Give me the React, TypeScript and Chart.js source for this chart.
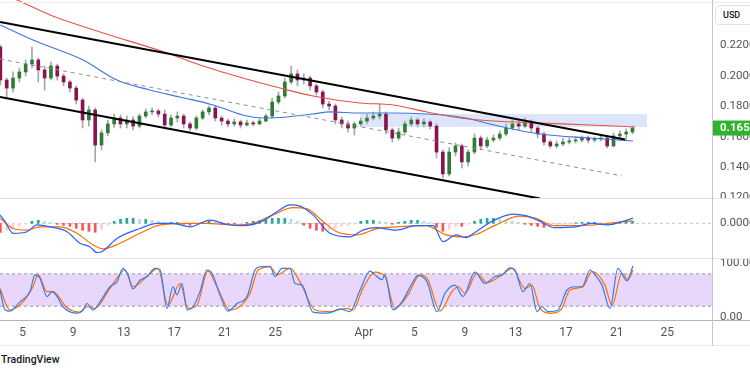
import React, { useEffect, useRef } from "react";
import { Chart, registerables } from "chart.js";
Chart.register(...registerables);

// ---------- time axis: day numbers counted from 1 March (32 = 1 April) ----------
const X_MIN = 3.22;
const X_MAX = 59.54;
const xTickDays = [5, 9, 13, 17, 21, 25, 32, 36, 40, 44, 48, 52, 56];
const xTickLabels = ["5", "9", "13", "17", "21", "25", "Apr", "5", "9", "13", "17", "21", "25"];

// ---------- price pane ----------
const PRICE_MIN = 0.11901;
const PRICE_MAX = 0.24993;
const priceTicks = [0.12, 0.14, 0.16, 0.18, 0.2, 0.22];
const candleFirstDay = 3.25;
const candleStepDays = 0.5;
// [open, high, low, close]
const ohlc: number[][] = [
  [0.2190, 0.2203, 0.1940, 0.1973], [0.1973, 0.1986, 0.1861, 0.1920], [0.1920, 0.2026, 0.1894, 0.1986],
  [0.1986, 0.2052, 0.1960, 0.2026], [0.2026, 0.2105, 0.1999, 0.2078], [0.2078, 0.2190, 0.2052, 0.2105],
  [0.2105, 0.2118, 0.1960, 0.2039], [0.2039, 0.2065, 0.1907, 0.1986], [0.1986, 0.2091, 0.1973, 0.2065],
  [0.2065, 0.2078, 0.1973, 0.1999], [0.1999, 0.2013, 0.1934, 0.1960], [0.1960, 0.1973, 0.1894, 0.1920],
  [0.1920, 0.1934, 0.1815, 0.1841], [0.1841, 0.1854, 0.1657, 0.1710], [0.1710, 0.1802, 0.1670, 0.1776],
  [0.1776, 0.1789, 0.1434, 0.1545], [0.1545, 0.1644, 0.1513, 0.1625], [0.1625, 0.1710, 0.1605, 0.1684],
  [0.1684, 0.1749, 0.1657, 0.1723], [0.1723, 0.1743, 0.1657, 0.1684], [0.1684, 0.1736, 0.1657, 0.1710],
  [0.1710, 0.1730, 0.1644, 0.1670], [0.1670, 0.1749, 0.1657, 0.1736], [0.1736, 0.1782, 0.1723, 0.1763],
  [0.1763, 0.1789, 0.1743, 0.1769], [0.1769, 0.1782, 0.1730, 0.1749], [0.1749, 0.1776, 0.1664, 0.1677],
  [0.1677, 0.1743, 0.1664, 0.1723], [0.1723, 0.1763, 0.1697, 0.1736], [0.1736, 0.1749, 0.1657, 0.1684],
  [0.1684, 0.1697, 0.1638, 0.1657], [0.1657, 0.1736, 0.1644, 0.1723], [0.1723, 0.1776, 0.1710, 0.1763],
  [0.1763, 0.1802, 0.1743, 0.1789], [0.1789, 0.1802, 0.1703, 0.1723], [0.1723, 0.1736, 0.1677, 0.1703],
  [0.1703, 0.1717, 0.1664, 0.1684], [0.1684, 0.1717, 0.1670, 0.1697], [0.1697, 0.1710, 0.1657, 0.1677],
  [0.1677, 0.1710, 0.1670, 0.1690], [0.1690, 0.1703, 0.1670, 0.1684], [0.1684, 0.1717, 0.1677, 0.1703],
  [0.1703, 0.1749, 0.1697, 0.1736], [0.1736, 0.1854, 0.1723, 0.1828], [0.1828, 0.1894, 0.1815, 0.1868],
  [0.1868, 0.1986, 0.1854, 0.1960], [0.1960, 0.2065, 0.1947, 0.2013], [0.2013, 0.2039, 0.1934, 0.1973],
  [0.1973, 0.2013, 0.1947, 0.1986], [0.1986, 0.1999, 0.1907, 0.1934], [0.1934, 0.1947, 0.1874, 0.1894],
  [0.1894, 0.1907, 0.1789, 0.1815], [0.1815, 0.1835, 0.1776, 0.1802], [0.1802, 0.1815, 0.1684, 0.1710],
  [0.1710, 0.1730, 0.1657, 0.1684], [0.1684, 0.1703, 0.1631, 0.1657], [0.1657, 0.1697, 0.1611, 0.1684],
  [0.1684, 0.1723, 0.1670, 0.1703], [0.1703, 0.1749, 0.1684, 0.1723], [0.1723, 0.1763, 0.1710, 0.1736],
  [0.1736, 0.1815, 0.1717, 0.1749], [0.1749, 0.1763, 0.1618, 0.1644], [0.1644, 0.1657, 0.1565, 0.1591],
  [0.1591, 0.1657, 0.1578, 0.1631], [0.1631, 0.1703, 0.1618, 0.1684], [0.1684, 0.1730, 0.1670, 0.1710],
  [0.1710, 0.1723, 0.1664, 0.1684], [0.1684, 0.1717, 0.1664, 0.1697], [0.1697, 0.1710, 0.1651, 0.1670],
  [0.1670, 0.1684, 0.1460, 0.1499], [0.1499, 0.1513, 0.1328, 0.1355], [0.1355, 0.1526, 0.1341, 0.1499],
  [0.1499, 0.1559, 0.1473, 0.1539], [0.1539, 0.1552, 0.1394, 0.1434], [0.1434, 0.1513, 0.1407, 0.1499],
  [0.1499, 0.1618, 0.1486, 0.1591], [0.1591, 0.1605, 0.1513, 0.1539], [0.1539, 0.1598, 0.1526, 0.1578],
  [0.1578, 0.1611, 0.1565, 0.1591], [0.1591, 0.1638, 0.1578, 0.1618], [0.1618, 0.1684, 0.1605, 0.1657],
  [0.1657, 0.1710, 0.1644, 0.1684], [0.1684, 0.1710, 0.1644, 0.1670], [0.1670, 0.1723, 0.1657, 0.1697],
  [0.1697, 0.1710, 0.1631, 0.1657], [0.1657, 0.1670, 0.1591, 0.1618], [0.1618, 0.1631, 0.1545, 0.1565],
  [0.1565, 0.1578, 0.1526, 0.1539], [0.1539, 0.1572, 0.1526, 0.1552], [0.1552, 0.1591, 0.1539, 0.1565],
  [0.1565, 0.1591, 0.1552, 0.1572], [0.1572, 0.1598, 0.1559, 0.1578], [0.1578, 0.1605, 0.1565, 0.1591],
  [0.1591, 0.1605, 0.1559, 0.1578], [0.1578, 0.1598, 0.1565, 0.1585], [0.1585, 0.1605, 0.1572, 0.1591],
  [0.1591, 0.1598, 0.1526, 0.1539], [0.1539, 0.1625, 0.1532, 0.1605], [0.1605, 0.1638, 0.1578, 0.1618],
  [0.1618, 0.1651, 0.1578, 0.1631], [0.1631, 0.1670, 0.1618, 0.1657],
];
// moving averages [day, price]
const maSlow = [
  [3.22, 0.2539], [4.56, 0.2499], [7.18, 0.2401], [11.13, 0.2289], [16.43, 0.2151], [19.04, 0.2072],
  [22.99, 0.1973], [25.37, 0.192], [27.98, 0.1868], [31.69, 0.1822], [34.3, 0.1809], [36.99, 0.1763],
  [39.6, 0.1723], [42.21, 0.1703], [45.93, 0.169], [49.89, 0.1677], [53.45, 0.1664],
];
const maFast = [
  [3.22, 0.2335], [5.83, 0.2236], [9.79, 0.2105], [12.47, 0.1973], [15.08, 0.1907], [17.45, 0.1861],
  [20.07, 0.1809], [22.76, 0.1736], [24.02, 0.1723], [25.92, 0.173], [27.98, 0.1749], [29.32, 0.1763],
  [31.69, 0.1756], [34.3, 0.1756], [36.99, 0.1749], [39.6, 0.173], [43.0, 0.1664], [45.93, 0.1618],
  [49.89, 0.1591], [53.29, 0.1572],
];
// channel drawings [day, price]
const channelUpper = [[3.22, 0.2355], [52.66, 0.1582]];
const channelLower = [[3.22, 0.1861], [45.93, 0.1193]];
const channelMid = [[3.22, 0.2111], [52.42, 0.1342]];
// resistance zone: [startDay, endDay, topPrice, bottomPrice]
const zone = [31.69, 54.4, 0.1749, 0.1664];

// ---------- MACD pane ----------
const MACD_MIN = -0.008925;
const MACD_MAX = 0.006075;
const macdTicks = [0];
const macdLine = [
  [3.22, 0.0021], [3.62, 0.0004], [4.25, -0.0025], [5.36, -0.0021], [6.15, -0.0004], [7.18, -0.0009],
  [8.52, -0.0021], [9.55, -0.005], [10.34, -0.0059], [10.89, -0.0073], [11.37, -0.0069], [12.47, -0.0038],
  [14.29, -0.0013], [15.64, 0], [16.9, 0], [18.25, -0.0009], [19.83, 0.0008], [21.18, -0.0003],
  [22.44, -0.0006], [24.02, 0.0006], [25.13, 0.0029], [26.16, 0.0046], [26.95, 0.0043], [27.98, 0.0021],
  [29.32, -0.0025], [30.9, -0.0034], [31.93, -0.0017], [32.97, -0.0011], [34.55, -0.0017], [36.13, -0.0006],
  [37.48, -0.0006], [38.27, -0.0046], [39.3, -0.0029], [40.08, -0.0036], [40.87, -0.0021], [42.21, 0.0006],
  [43.79, 0.0023], [44.82, 0.0019], [45.86, 0.0006], [47.12, -0.0011], [48.7, -0.0009], [50.04, 0],
  [51.31, -0.0004], [52.42, 0.0004], [53.28, 0.0013],
];
const signalLine = [
  [3.22, 0.0013], [4.25, -0.0013], [5.36, -0.0017], [6.38, -0.0009], [7.97, -0.0009], [9.31, -0.0025],
  [10.58, -0.0054], [11.37, -0.0064], [12.71, -0.005], [14.29, -0.0025], [15.88, -0.0004], [18.01, 0],
  [19.59, 0], [21.65, -0.0004], [23.23, 0], [24.81, 0.0021], [26.4, 0.0039], [27.51, 0.0036],
  [28.78, 0.0004], [29.87, -0.0021], [31.46, -0.0029], [32.97, -0.0014], [34.55, -0.0009], [36.92, -0.0006],
  [38.51, -0.0029], [39.84, -0.0034], [40.87, -0.0028], [42.45, -0.0004], [44.27, 0.0018], [45.54, 0.0013],
  [47.12, -0.0006], [49.25, -0.0006], [51.31, 0], [53.28, 0.0006],
];
// one histogram value per candle
const macdHist = [
  -0.00225, -0.00175, -0.00125, -0.00075, -0.00025, 0.0005, 0.00075, 0.0005, 0.00025, -0.00025,
  -0.0005, -0.00075, -0.00125, -0.00175, -0.002, -0.00225, -0.0015, -0.0005, 0.0005, 0.001,
  0.00125, 0.00125, 0.001, 0.001, 0.00075, 0.0005, 0.00025, 0.00025, 0.00025, -0.00025,
  -0.0005, -0.00025, 0.00025, 0.0005, 0.00025, -0.00025, -0.00025, -0.00025, -0.00012, 0.00025,
  0.0005, 0.00075, 0.001, 0.00125, 0.00125, 0.00125, 0.001, 0.0005, -0.0005, -0.00125,
  -0.00175, -0.002, -0.00175, -0.00125, -0.00075, -0.0005, -0.00025, 0.0005, 0.00075, 0.00075,
  0.0005, 0.00025, -0.00025, 0.00025, 0.0005, 0.00075, 0.00075, 0.0005, 0.00025, -0.001,
  -0.002, -0.0015, -0.00075, -0.00075, -0.00025, 0.0005, 0.001, 0.00125, 0.00125, 0.001,
  0.00075, 0.0005, 0.00025, -0.00025, -0.0005, -0.00075, -0.001, -0.00075, -0.0005, -0.00025,
  -0.00012, 0.00012, 0.00025, 0.00025, 0.00025, 0.00012, -0.00012, 0.00012, 0.00025, 0.00038,
  0.0005,
];

// ---------- Stoch RSI pane ----------
const STOCH_MIN = -6.48;
const STOCH_MAX = 107.4;
const stochTicks = [0, 100];
const stochBand = [20, 80];
const stochK = [
  [3.22, 50], [3.62, 13], [4.01, 11], [4.8, 28], [5.59, 47], [5.99, 78], [6.38, 72], [6.94, 38], [7.33, 47],
  [7.73, 38], [8.2, 19], [9.31, 7], [9.79, 13], [10.1, 25], [10.58, 13], [11.13, 28], [11.92, 56], [12.47, 65],
  [12.95, 90], [13.34, 78], [13.74, 52], [14.29, 68], [14.85, 75], [15.48, 90], [15.88, 87], [16.43, 16],
  [16.9, 56], [17.22, 41], [17.62, 62], [18.01, 13], [18.49, 19], [19.04, 47], [19.59, 87], [19.99, 81],
  [20.62, 41], [21.25, 11], [21.97, 25], [22.76, 38], [23.39, 87], [23.79, 93], [24.58, 94], [24.97, 75],
  [25.53, 90], [26.16, 90], [26.55, 62], [27.11, 59], [27.98, 9], [29.09, 7], [29.56, 10], [30.11, 15],
  [30.9, 10], [31.7, 50], [32.49, 85], [32.88, 78], [33.44, 69], [33.67, 78], [34.31, 13], [35.02, 28],
  [35.81, 62], [36.28, 77], [37.0, 65], [37.79, 10], [38.42, 44], [39.21, 59], [39.84, 38], [40.79, 83],
  [41.58, 62], [42.37, 75], [42.93, 78], [43.56, 91], [43.96, 87], [44.59, 47], [45.14, 62], [45.7, 10],
  [46.09, 19], [46.57, 10], [47.36, 13], [48.07, 50], [48.7, 56], [49.26, 56], [49.89, 87], [50.28, 78],
  [50.84, 59], [51.47, 16], [52.1, 90], [52.81, 67], [53.29, 95],
];
const stochD = [
  [3.22, 53], [4.01, 13], [5.04, 28], [5.83, 56], [6.23, 78], [6.94, 47], [7.41, 47], [8.52, 17], [9.55, 9],
  [10.1, 19], [10.73, 16], [11.92, 53], [13.11, 87], [13.74, 56], [14.85, 75], [15.72, 90], [16.51, 22],
  [17.46, 62], [18.09, 16], [18.8, 22], [19.67, 85], [20.38, 56], [21.41, 13], [23.0, 44], [23.63, 87],
  [24.58, 93], [25.13, 78], [26.16, 90], [26.95, 65], [28.14, 13], [29.32, 10], [30.67, 16], [31.14, 13],
  [31.93, 53], [32.88, 83], [33.67, 75], [34.46, 16], [35.49, 41], [36.44, 78], [37.07, 69], [38.02, 11],
  [38.97, 47], [39.45, 56], [40.0, 44], [40.95, 81], [41.74, 64], [42.93, 78], [43.72, 90], [44.75, 53],
  [45.3, 59], [45.93, 16], [46.88, 7], [47.67, 16], [48.3, 50], [49.33, 56], [50.04, 84], [51.07, 59],
  [51.63, 22], [52.42, 81], [52.89, 69], [53.29, 87],
];

// ---------- helpers ----------
const FONT = "Roboto, 'Noto Sans', sans-serif";
const LABEL_COLOR = "#50535e";
const candleDays = ohlc.map((_, i) => candleFirstDay + i * candleStepDays);
const lastClose = ohlc[ohlc.length - 1][3];
const pts = (arr: number[][]) => arr.map(([x, y]) => ({ x, y }));
const hline = (v: number) => [{ x: X_MIN, y: v }, { x: X_MAX, y: v }];

function line(data: any[], color: string, width: number, extra: any = {}) {
  return {
    type: "line",
    data,
    borderColor: color,
    backgroundColor: color,
    borderWidth: width,
    pointRadius: 0,
    fill: false,
    tension: 0,
    ...extra,
  };
}

function xAxis(show: boolean) {
  return {
    type: "linear",
    min: X_MIN,
    max: X_MAX,
    offset: false,
    display: show,
    grid: { display: false, drawTicks: false },
    border: { display: false },
    ticks: {
      autoSkip: false,
      maxRotation: 0,
      padding: 5,
      color: LABEL_COLOR,
      font: { family: FONT, size: 12 },
      callback: (_v: any, i: number) => xTickLabels[i] ?? "",
    },
    afterBuildTicks: (s: any) => {
      s.ticks = xTickDays.map((v) => ({ value: v }));
    },
    afterFit: (s: any) => {
      s.height = show ? 25.5 : 0;
      s.paddingLeft = 0;
      s.paddingRight = 0;
    },
  };
}

function yAxis(min: number, max: number, ticks: number[], decimals: number) {
  return {
    type: "linear",
    position: "right",
    min,
    max,
    grid: { display: false, drawTicks: false },
    border: { display: false },
    ticks: {
      padding: 8,
      color: LABEL_COLOR,
      font: { family: FONT, size: 11.5 },
      callback: (v: any) => Number(v).toFixed(decimals),
    },
    afterBuildTicks: (s: any) => {
      s.ticks = ticks.map((v) => ({ value: v }));
    },
    afterFit: (s: any) => {
      s.width = 38;
      s.paddingTop = 0;
      s.paddingBottom = 0;
    },
  };
}

function baseOptions(showX: boolean, y: any) {
  return {
    responsive: false,
    maintainAspectRatio: false,
    animation: false,
    events: [],
    layout: { padding: 0 },
    plugins: { legend: { display: false }, tooltip: { enabled: false } },
    scales: { x: xAxis(showX), y },
  };
}

const lastPricePlugin = {
  id: "lastPriceLabel",
  afterDraw(chart: any) {
    const { ctx, chartArea } = chart;
    const y = chart.scales.y.getPixelForValue(lastClose);
    ctx.save();
    ctx.fillStyle = "#2fb22c";
    ctx.fillRect(chartArea.right + 1, y - 7.5, 60, 15);
    ctx.fillStyle = "#ffffff";
    ctx.font = `bold 11.5px ${FONT}`;
    ctx.textBaseline = "middle";
    ctx.textAlign = "left";
    ctx.fillText(lastClose.toFixed(4), chartArea.right + 8, y + 0.5);
    ctx.restore();
  },
};

function priceConfig(): any {
  return {
    type: "line",
    data: {
      datasets: [
        line(pts(channelUpper), "#000000", 2, { order: 1 }),
        line(pts(channelLower), "#000000", 2, { order: 1 }),
        line(pts(channelMid), "#8c8f97", 1, { order: 2, borderDash: [4, 4] }),
        line(pts(maSlow), "#e5534b", 1.1, { order: 3, cubicInterpolationMode: "monotone" }),
        line(pts(maFast), "#3b78d8", 1.1, { order: 3, cubicInterpolationMode: "monotone" }),
        {
          type: "bar",
          data: ohlc.map((c, i) => ({ x: candleDays[i], y: [c[0], c[3]] })),
          backgroundColor: ohlc.map((c) => (c[3] >= c[0] ? "#2f7d32" : "#8a1450")),
          borderWidth: 0,
          barThickness: 3,
          minBarLength: 1,
          grouped: false,
          order: 5,
        },
        {
          type: "bar",
          data: ohlc.map((c, i) => ({ x: candleDays[i], y: [c[2], c[1]] })),
          backgroundColor: "#a3a6ad",
          borderWidth: 0,
          barThickness: 1,
          grouped: false,
          order: 6,
        },
        line([{ x: zone[0], y: zone[2] }, { x: zone[1], y: zone[2] }], "rgba(0,0,0,0)", 0, { order: 9 }),
        line([{ x: zone[0], y: zone[3] }, { x: zone[1], y: zone[3] }], "rgba(0,0,0,0)", 0, {
          order: 9,
          fill: "-1",
          backgroundColor: "rgba(120,150,240,0.25)",
        }),
      ],
    },
    options: baseOptions(false, yAxis(PRICE_MIN, PRICE_MAX, priceTicks, 4)),
    plugins: [lastPricePlugin],
  };
}

function macdConfig(): any {
  const histColors = macdHist.map((v, i) => {
    const prev = i > 0 ? macdHist[i - 1] : v;
    if (v >= 0) return v >= prev ? "#26a69a" : "#b2dfdb";
    return v <= prev ? "#ff5252" : "#ffcdd2";
  });
  return {
    type: "line",
    data: {
      datasets: [
        line(pts(macdLine), "#2962ff", 1.2, { order: 1, cubicInterpolationMode: "monotone" }),
        line(pts(signalLine), "#ff6d00", 1.2, { order: 2, cubicInterpolationMode: "monotone" }),
        {
          type: "bar",
          data: macdHist.map((v, i) => ({ x: candleDays[i], y: v })),
          backgroundColor: histColors,
          borderWidth: 0,
          barThickness: 2,
          grouped: false,
          order: 4,
        },
        line(hline(0), "#c3c6ce", 1, { order: 6, borderDash: [3, 3] }),
      ],
    },
    options: baseOptions(false, yAxis(MACD_MIN, MACD_MAX, macdTicks, 4)),
  };
}

function stochConfig(): any {
  return {
    type: "line",
    data: {
      datasets: [
        line(pts(stochK), "#2f7df6", 1.2, { order: 1, cubicInterpolationMode: "monotone" }),
        line(pts(stochD), "#ff6d00", 1.2, { order: 2, cubicInterpolationMode: "monotone" }),
        line(hline(stochBand[1]), "#9a9da5", 1, { order: 6, borderDash: [3, 3] }),
        line(hline(stochBand[0]), "#9a9da5", 1, {
          order: 6,
          borderDash: [3, 3],
          fill: "-1",
          backgroundColor: "#e9d6fb",
        }),
      ],
    },
    options: baseOptions(true, yAxis(STOCH_MIN, STOCH_MAX, stochTicks, 2)),
  };
}

const abs = (top: number, left: number, w: number, h: number, bg: string): React.CSSProperties => ({
  position: "absolute",
  top,
  left,
  width: w,
  height: h,
  background: bg,
});

export default function App() {
  const refA = useRef<HTMLCanvasElement>(null);
  const refB = useRef<HTMLCanvasElement>(null);
  const refC = useRef<HTMLCanvasElement>(null);

  useEffect(() => {
    const charts = [
      new Chart(refA.current as HTMLCanvasElement, priceConfig()),
      new Chart(refB.current as HTMLCanvasElement, macdConfig()),
      new Chart(refC.current as HTMLCanvasElement, stochConfig()),
    ];
    return () => charts.forEach((c) => c.destroy());
  }, []);

  return (
    <div
      style={{
        position: "fixed",
        left: 0,
        top: 0,
        width: 750,
        height: 375,
        background: "#ffffff",
        overflow: "hidden",
        fontFamily: FONT,
      }}
    >
      <canvas ref={refA} width={750} height={199} style={{ position: "absolute", left: 0, top: 0 }} />
      <canvas ref={refB} width={750} height={60} style={{ position: "absolute", left: 0, top: 199 }} />
      <canvas ref={refC} width={750} height={87} style={{ position: "absolute", left: 0, top: 259 }} />

      <div style={abs(2, 0, 750, 1, "#eceef2")} />
      <div style={abs(198, 0, 750, 1, "#e0e3eb")} />
      <div style={abs(258, 0, 750, 1, "#e0e3eb")} />
      <div style={abs(320, 0, 750, 1, "#b2b5be")} />
      <div style={abs(345, 0, 750, 1, "#e6e8ec")} />
      <div style={abs(0, 712, 1, 346, "#c3c6ce")} />

      <div
        style={{
          position: "absolute",
          left: 715,
          top: 5,
          width: 50,
          height: 20,
          boxSizing: "border-box",
          border: "1px solid #e0e3eb",
          borderRadius: 4,
          background: "#fff",
          color: "#131722",
          fontSize: 9,
          fontWeight: 500,
          lineHeight: "18px",
          paddingLeft: 7,
        }}
      >
        USD
      </div>
      <div
        style={{
          position: "absolute",
          left: 1,
          top: 353,
          fontSize: 10.5,
          fontWeight: 500,
          color: "#131722",
          lineHeight: "14px",
        }}
      >
        TradingView
      </div>
    </div>
  );
}
